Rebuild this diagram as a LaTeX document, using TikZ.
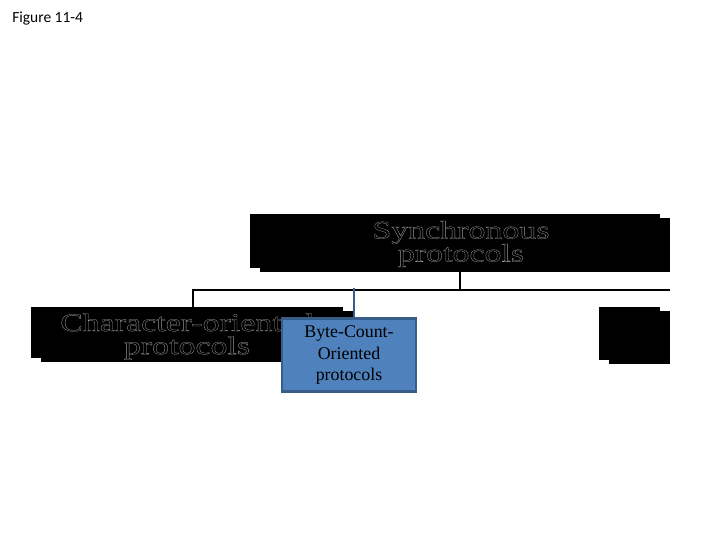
\documentclass[tikz,border=0pt]{standalone}
\usepackage{fontspec}
\setmainfont{Liberation Serif}
\newfontfamily\figfont{Carlito}
\usetikzlibrary{shadows}

\definecolor{bytefill}{HTML}{4F81BD}
\definecolor{bytedraw}{HTML}{385D8A}
\definecolor{outlinegray}{gray}{0.6}

% wide outlined lettering of the black boxes
\newcommand*{\boxline}[1]{\scalebox{1.34}[1]{\special{pdf:literal direct 1 Tr 0.2 w}#1\special{pdf:literal direct 0 Tr}}}

\begin{document}
\begin{tikzpicture}
[
	x=0.025cm, y=-0.025cm,
	blackbox/.style={fill=black, draw=none, inner sep=0pt,
		general shadow={fill=black, shadow xshift=0.25cm, shadow yshift=-0.1cm}},
	boxtext/.style={text=outlinegray, align=center, inner sep=0pt, font=\fontsize{18}{16.4}\selectfont},
	bytebox/.style={fill=bytefill, draw=bytedraw, line width=1.5pt, inner sep=0pt, align=center,
		minimum width=3.35cm, minimum height=1.825cm, font=\fontsize{12.7}{15.6}\selectfont},
	bus/.style={draw=black, line width=1.2pt},
	byteline/.style={draw=bytedraw, line width=1.1pt}
]

	\useasboundingbox (0,0) rectangle (720,540);

	% caption
	\node[anchor=base west, inner sep=0pt, font=\figfont\fontsize{11}{13}\selectfont] (figlabel) at (12,22) {Figure 11-4};

	% black boxes
	\node[blackbox, minimum width=10.25cm, minimum height=1.35cm] (sync) at (455,241) {};
	\node[boxtext] (synclabel) at (461,244) {\boxline{Synchronous}\\\boxline{protocols}};
	\node[blackbox, minimum width=7.8cm, minimum height=1.275cm] (char) at (187,332.5) {};
	\node[boxtext] (charlabel) at (187,336.5) {\boxline{Character-oriented}\\\boxline{protocols}};
	\node[blackbox, minimum width=1.525cm, minimum height=1.325cm] (bit) at (629.5,333.5) {};

	% bus
	\coordinate (busleft) at (193,290);
	\coordinate (busmid) at (460,290);
	\coordinate (busright) at (670,290);
	\coordinate (bytetap) at (354,288);
	\draw[bus] (sync.south -| busmid) -- (busmid);
	\draw[bus] (busright) -- (busleft) -- (char.north -| busleft);

	% byte-count box
	\node[bytebox] (byte) at (349,355) {Byte-Count-\\Oriented\\protocols};
	\draw[byteline] (bytetap) -- (bytetap |- byte.north);

\end{tikzpicture}
\end{document}
